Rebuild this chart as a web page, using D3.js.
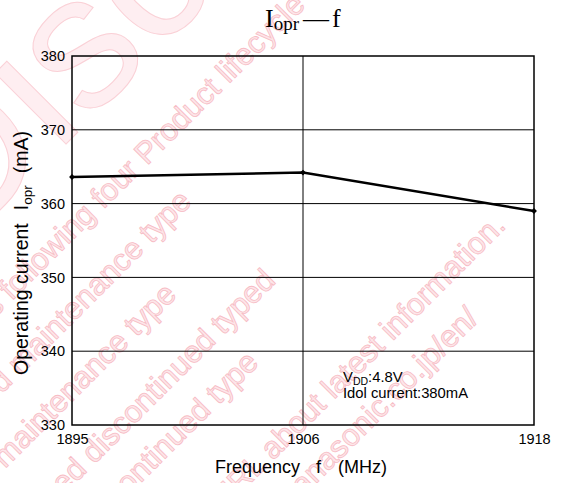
<!DOCTYPE html>
<html>
<head>
<meta charset="utf-8">
<script src="https://cdn.jsdelivr.net/npm/d3@7/dist/d3.min.js"></script>
<style>
	body { margin: 0; background: #fff; }
	svg { display: block; }
	.watermark text { white-space: pre; }
</style>
</head>
<body>
<div id="chart"></div>
<script>
// chart data
const frequencies = ['1895', '1906', '1918'];
const currentValues = [363.6, 364.2, 359.0];
const yTicks = [330, 340, 350, 360, 370, 380];

// background watermark of the datasheet (decoration only)
// each line is split at a point: "before" ends there, "after" starts there
const watermark = [
	{ before: 'includes following four ', after: 'Product lifecycle stage.', x: 147, y: 166 },
	{ before: 'planed maintenance type', after: '', x: 193, y: 203 },
	{ before: 'maintenance type', after: '', x: 178, y: 296 },
	{ before: 'planed discontinued typed', after: '', x: 277, y: 282 },
	{ before: 'discontinued type', after: '', x: 260, y: 364 },
	{ before: 'Please visit following URL about latest information.', after: '', x: 507, y: 227 },
	{ before: 'http://panasonic.co.jp/en/', after: '', x: 480, y: 320 }
];

const W = 562, H = 483;
const margin = { top: 56, right: 28, bottom: 58, left: 72 };
const innerW = W - margin.left - margin.right;
const innerH = H - margin.top - margin.bottom;
const sans = 'Arial, "Liberation Sans", sans-serif';

const svg = d3.select('#chart').append('svg')
	.attr('width', W)
	.attr('height', H)
	.style('font-family', sans);

// watermark
const wm = svg.append('g').attr('class', 'watermark');
wm.append('text')
	.attr('transform', 'translate(-40,250) rotate(-45)')
	.attr('font-size', 190)
	.attr('fill', '#feeef1')
	.attr('stroke', '#fad0d6')
	.attr('stroke-width', 1)
	.text('Discontinued');
watermark.forEach(d => {
	[['end', d.before], ['start', d.after]].forEach(([anchor, txt]) => {
		if (!txt) return;
		wm.append('text')
			.attr('transform', `translate(${d.x},${d.y}) rotate(-45)`)
			.attr('text-anchor', anchor)
			.attr('font-size', 31)
			.attr('fill', '#fde6e9')
			.attr('stroke', '#f7bcc5')
			.attr('stroke-width', 0.8)
			.text(txt);
	});
});

const g = svg.append('g').attr('transform', `translate(${margin.left},${margin.top})`);

const x = d3.scalePoint().domain(frequencies).range([0, innerW]);
const y = d3.scaleLinear().domain([330, 380]).range([innerH, 0]);

// horizontal grid
g.append('g')
	.selectAll('line')
	.data(yTicks.slice(1, -1))
	.join('line')
	.attr('x1', 0)
	.attr('x2', innerW)
	.attr('y1', d => y(d))
	.attr('y2', d => y(d))
	.attr('stroke', '#000')
	.attr('stroke-width', 1);

// vertical grid
g.append('g')
	.selectAll('line')
	.data(frequencies.slice(1, -1))
	.join('line')
	.attr('x1', d => x(d))
	.attr('x2', d => x(d))
	.attr('y1', 0)
	.attr('y2', innerH)
	.attr('stroke', '#000')
	.attr('stroke-width', 1);

// frame
g.append('rect')
	.attr('width', innerW)
	.attr('height', innerH)
	.attr('fill', 'none')
	.attr('stroke', '#000')
	.attr('stroke-width', 1.5);

// axes (labels only)
const yAxis = g.append('g')
	.call(d3.axisLeft(y).tickValues(yTicks).tickSize(0).tickPadding(7));
const xAxis = g.append('g')
	.attr('transform', `translate(0,${innerH})`)
	.call(d3.axisBottom(x).tickSize(0).tickPadding(9));
[yAxis, xAxis].forEach(a => {
	a.select('.domain').remove();
	a.selectAll('text')
		.attr('font-size', 14.5)
		.attr('font-family', sans)
		.attr('fill', '#000');
});

// data line
const pts = frequencies.map((f, i) => [f, currentValues[i]]);
g.append('path')
	.datum(pts)
	.attr('fill', 'none')
	.attr('stroke', '#000')
	.attr('stroke-width', 2.5)
	.attr('d', d3.line().x(d => x(d[0])).y(d => y(d[1])));

g.selectAll('.marker')
	.data(pts)
	.join('path')
	.attr('class', 'marker')
	.attr('transform', d => `translate(${x(d[0])},${y(d[1])})`)
	.attr('d', d3.symbol(d3.symbolDiamond2, 22))
	.attr('fill', '#000');

// note
const note = g.append('text')
	.attr('x', x('1906') + 40)
	.attr('y', 326)
	.attr('font-size', 14.8);
note.append('tspan').text('V');
note.append('tspan').attr('font-size', 10.5).attr('dy', 2.5).text('DD');
note.append('tspan').attr('dy', -2.5).text(':4.8V');
g.append('text')
	.attr('x', x('1906') + 40)
	.attr('y', 342)
	.attr('font-size', 14.8)
	.text('Idol current:380mA');

// title
const title = svg.append('text')
	.attr('x', 265)
	.attr('y', 27)
	.attr('font-family', '"Liberation Serif", "Times New Roman", serif')
	.attr('font-size', 26);
title.append('tspan').text('I');
title.append('tspan').attr('font-size', 19).attr('dy', 3).text('opr');
title.append('tspan').attr('dy', -3).attr('dx', 4).text('—');
title.append('tspan').attr('dx', 3).text('f');

// x title
const xt = svg.append('text')
	.attr('x', 301)
	.attr('y', 473)
	.attr('text-anchor', 'middle')
	.attr('font-size', 18);
xt.append('tspan').text('Frequency');
xt.append('tspan').attr('dx', 16).text('f');
xt.append('tspan').attr('dx', 17).text('(MHz)');

// y title
const yt = svg.append('text')
	.attr('transform', 'translate(28,375) rotate(-90)')
	.attr('font-size', 19.5);
yt.append('tspan').text('Operating current');
yt.append('tspan').attr('dx', 13).text('I');
yt.append('tspan').attr('font-size', 13.5).attr('dy', 4).text('opr');
yt.append('tspan').attr('dy', -4).attr('dx', 12).text('(mA)');
</script>
</body>
</html>
